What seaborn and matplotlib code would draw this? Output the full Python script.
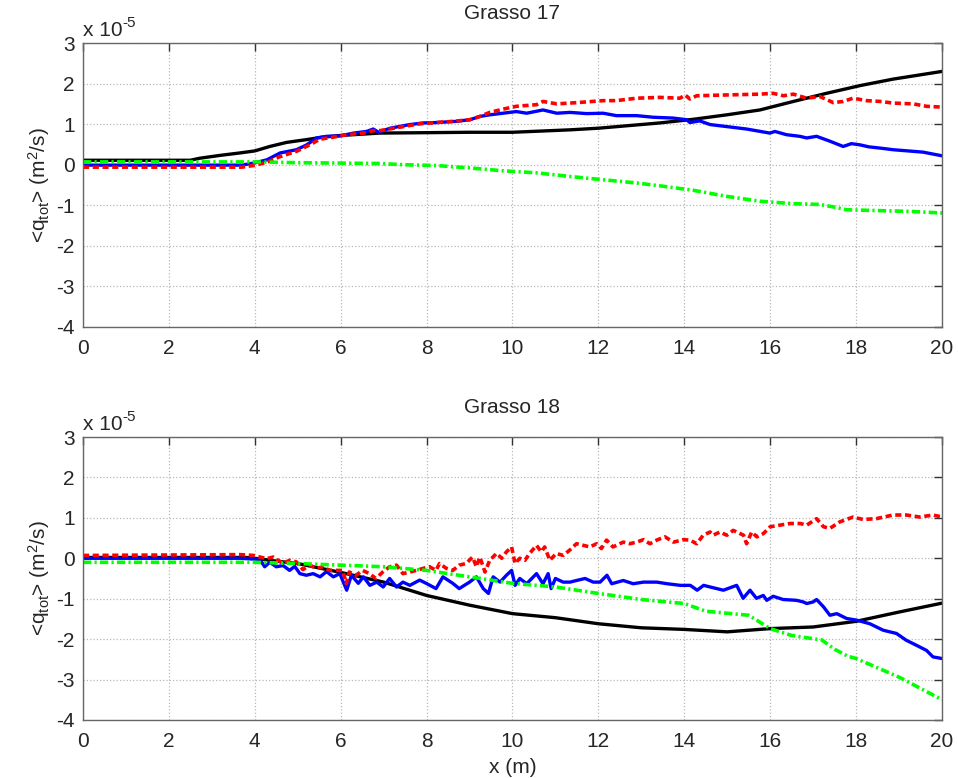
import matplotlib
matplotlib.use("Agg")
import matplotlib.pyplot as plt
import seaborn as sns
import pandas as pd

# ---------------- data (units of 1e-5 m^2/s) ----------------
# Grasso 17
g17_black_x = [0, 2.5, 2.72, 3.19, 3.65, 4.0, 4.35, 4.74, 5.21, 5.52,
               5.98, 6.91, 8.0, 9.01, 10, 11.34, 12, 13.43, 14.21, 14.99,
               15.76, 16.54, 17.31, 18.09, 18.86, 19.64, 20]
g17_black_y = [0.11, 0.11, 0.16, 0.23, 0.29, 0.34, 0.45, 0.55, 0.62, 0.67,
               0.72, 0.78, 0.79, 0.80, 0.80, 0.86, 0.90, 1.03, 1.12, 1.23,
               1.35, 1.56, 1.76, 1.95, 2.11, 2.24, 2.30]

g17_blue_x = [0, 3.7, 3.97, 4.28, 4.59, 4.97, 5.21, 5.44, 5.67, 5.98,
              6.3, 6.6, 6.76, 6.88, 7.15, 7.61, 7.92, 8.23, 8.7, 9.01,
              9.24, 9.47, 9.78, 10.09, 10.33, 10.71, 11.03, 11.34, 11.73, 12.11,
              12.42, 12.89, 13.28, 13.74, 14.05, 14.13, 14.36, 14.6, 14.99, 15.45,
              15.99, 16.11, 16.38, 16.69, 16.85, 17.08, 17.39, 17.7, 17.89, 18.09,
              18.3, 18.56, 18.86, 19.33, 19.56, 20]
g17_blue_y = [-0.01, -0.01, 0.04, 0.12, 0.29, 0.37, 0.49, 0.66, 0.70, 0.71,
              0.78, 0.82, 0.88, 0.80, 0.90, 0.99, 1.03, 1.04, 1.07, 1.11,
              1.19, 1.23, 1.27, 1.31, 1.27, 1.35, 1.27, 1.29, 1.26, 1.27,
              1.21, 1.21, 1.17, 1.15, 1.11, 1.04, 1.08, 0.99, 0.94, 0.88,
              0.78, 0.82, 0.74, 0.70, 0.66, 0.70, 0.58, 0.45, 0.52, 0.49,
              0.44, 0.41, 0.37, 0.33, 0.31, 0.22]

g17_red_x = [0, 3.7, 3.97, 4.28, 4.59, 4.97, 5.28, 5.52, 5.83, 6.14,
             6.53, 6.76, 6.91, 7.46, 7.85, 8.23, 8.62, 9.01, 9.24, 9.47,
             9.78, 10.09, 10.56, 10.71, 11.03, 11.49, 12.11, 12.42, 12.89, 13.43,
             13.9, 14.02, 14.13, 14.29, 14.99, 15.76, 16.07, 16.31, 16.54, 16.85,
             17.16, 17.47, 17.7, 17.93, 18.24, 18.56, 18.86, 19.33, 19.64, 20]
g17_red_y = [-0.06, -0.06, -0.02, 0.06, 0.20, 0.33, 0.49, 0.63, 0.68, 0.74,
             0.78, 0.84, 0.84, 0.94, 1.01, 1.04, 1.07, 1.11, 1.19, 1.29,
             1.37, 1.44, 1.48, 1.56, 1.50, 1.53, 1.58, 1.58, 1.64, 1.66,
             1.64, 1.72, 1.62, 1.70, 1.72, 1.74, 1.76, 1.70, 1.74, 1.64,
             1.68, 1.53, 1.56, 1.64, 1.58, 1.56, 1.52, 1.50, 1.44, 1.42]

g17_green_x = [0, 3.97, 5.0, 6.0, 6.91, 7.46, 8.23, 9.01, 9.78, 10.56,
               11.34, 12.11, 12.89, 13.43, 14.21, 14.99, 15.76, 16.54, 17.16, 17.47,
               17.78, 18.48, 19.25, 20]
g17_green_y = [0.07, 0.07, 0.05, 0.04, 0.03, 0.0, -0.02, -0.08, -0.15, -0.20,
               -0.29, -0.37, -0.45, -0.52, -0.63, -0.78, -0.90, -0.96, -0.98, -1.04,
               -1.11, -1.13, -1.15, -1.19]

# Grasso 18
g18_black_x = [0, 3.8, 4.0, 4.5, 5.0, 6.0, 7.0, 8.0, 9.0, 10,
               11, 12, 13, 14, 15, 16, 17, 18, 19, 20]
g18_black_y = [0.02, 0.02, 0.0, -0.07, -0.13, -0.35, -0.59, -0.92, -1.16, -1.37,
               -1.47, -1.62, -1.72, -1.76, -1.82, -1.74, -1.70, -1.56, -1.33, -1.11]

g18_blue_x = [0, 3.66, 4.12, 4.23, 4.35, 4.5, 4.66, 4.81, 4.93, 5.05,
              5.2, 5.36, 5.52, 5.67, 5.83, 5.98, 6.14, 6.25, 6.41, 6.53,
              6.68, 6.84, 6.99, 7.14, 7.3, 7.45, 7.61, 7.84, 7.99, 8.22,
              8.38, 8.61, 8.76, 9.0, 9.16, 9.32, 9.44, 9.55, 9.71, 9.86,
              9.98, 10.06, 10.17, 10.33, 10.56, 10.71, 10.83, 10.9, 11.0, 11.18,
              11.34, 11.49, 11.69, 11.88, 12.04, 12.2, 12.31, 12.58, 12.81, 13.05,
              13.36, 13.6, 13.91, 14.14, 14.3, 14.45, 14.6, 14.91, 15.22, 15.37,
              15.53, 15.68, 15.84, 15.92, 16.07, 16.3, 16.61, 16.77, 16.85, 17.0,
              17.08, 17.24, 17.39, 17.55, 17.78, 18.01, 18.32, 18.63, 18.94, 19.17,
              19.4, 19.64, 19.79, 20]
g18_blue_y = [0.0, 0.0, -0.03, -0.21, -0.10, -0.21, -0.18, -0.30, -0.20, -0.38,
              -0.42, -0.38, -0.46, -0.33, -0.46, -0.38, -0.79, -0.42, -0.62, -0.46,
              -0.67, -0.59, -0.71, -0.50, -0.71, -0.59, -0.67, -0.54, -0.62, -0.75,
              -0.46, -0.62, -0.75, -0.59, -0.46, -0.75, -0.87, -0.46, -0.59, -0.42,
              -0.30, -0.67, -0.50, -0.63, -0.38, -0.63, -0.38, -0.75, -0.50, -0.59,
              -0.59, -0.55, -0.50, -0.59, -0.59, -0.42, -0.63, -0.55, -0.63, -0.59,
              -0.59, -0.63, -0.67, -0.67, -0.79, -0.67, -0.71, -0.79, -0.67, -0.99,
              -0.79, -0.99, -0.92, -1.04, -0.94, -1.02, -1.04, -1.08, -1.12, -1.08,
              -1.02, -1.20, -1.41, -1.37, -1.49, -1.53, -1.62, -1.78, -1.86, -2.03,
              -2.15, -2.28, -2.44, -2.48]

g18_red_x = [0, 3.66, 3.97, 4.28, 4.43, 4.66, 4.81, 4.97, 5.12, 5.28,
             5.43, 5.59, 5.74, 5.9, 6.05, 6.13, 6.2, 6.36, 6.51, 6.67,
             6.82, 6.98, 7.14, 7.3, 7.45, 7.61, 7.76, 7.92, 8.07, 8.22,
             8.3, 8.46, 8.61, 8.76, 8.92, 9.07, 9.16, 9.24, 9.36, 9.47,
             9.63, 9.75, 9.86, 9.98, 10.06, 10.17, 10.29, 10.4, 10.56, 10.67,
             10.75, 10.87, 11.02, 11.18, 11.33, 11.49, 11.65, 11.8, 11.96, 12.07,
             12.19, 12.34, 12.58, 12.73, 12.89, 13.05, 13.2, 13.36, 13.55, 13.75,
             13.98, 14.13, 14.29, 14.44, 14.6, 14.67, 14.83, 14.99, 15.14, 15.38,
             15.45, 15.57, 15.69, 15.84, 16.0, 16.23, 16.46, 16.7, 16.85, 17.08,
             17.24, 17.39, 17.62, 17.93, 18.16, 18.47, 18.86, 19.17, 19.48, 19.79,
             20]
g18_red_y = [0.07, 0.09, 0.07, -0.01, 0.03, -0.13, -0.05, -0.09, -0.28, -0.17,
             -0.25, -0.21, -0.30, -0.30, -0.30, -0.63, -0.34, -0.42, -0.30, -0.38,
             -0.50, -0.34, -0.21, -0.17, -0.38, -0.34, -0.30, -0.25, -0.21, -0.30,
             -0.13, -0.25, -0.30, -0.17, -0.13, 0.03, -0.21, 0.03, -0.34, -0.05,
             0.12, 0.0, 0.16, 0.28, -0.13, 0.0, -0.05, 0.12, 0.32, 0.16,
             0.28, -0.05, 0.12, 0.07, 0.20, 0.36, 0.32, 0.28, 0.36, 0.24,
             0.45, 0.28, 0.40, 0.36, 0.40, 0.46, 0.36, 0.45, 0.53, 0.40,
             0.46, 0.45, 0.36, 0.57, 0.65, 0.57, 0.65, 0.57, 0.69, 0.57,
             0.36, 0.65, 0.53, 0.61, 0.78, 0.82, 0.86, 0.86, 0.82, 0.98,
             0.78, 0.74, 0.90, 1.02, 0.96, 0.98, 1.07, 1.07, 1.02, 1.07,
             1.02]

g18_green_x = [0, 4.0, 5.0, 6.0, 7.0, 8.0, 9.0, 10.0, 11.0, 12.0,
               13.0, 14.0, 14.5, 15.0, 15.5, 16.0, 16.5, 17.0, 17.2, 17.5,
               17.8, 18.0, 19.0, 20]
g18_green_y = [-0.10, -0.10, -0.13, -0.17, -0.21, -0.30, -0.46, -0.62, -0.71, -0.87,
               -1.02, -1.12, -1.31, -1.36, -1.41, -1.74, -1.91, -1.99, -2.02, -2.25,
               -2.42, -2.48, -2.94, -3.50]

titles = ["Grasso 17", "Grasso 18"]
x_ticks = list(range(0, 21, 2))
y_ticks = list(range(-4, 4))

# ---------------- styling ----------------
sns.set_style("white")
plt.rcParams["font.family"] = ["Liberation Sans", "DejaVu Sans"]
plt.rcParams["mathtext.default"] = "regular"
plt.rcParams["axes.unicode_minus"] = False

styles = {
    "black": dict(color="#000000", linewidth=2.4, linestyle="-"),
    "blue": dict(color="#0000FF", linewidth=2.4, linestyle="-"),
    "red": dict(color="#FF0000", linewidth=2.6, linestyle=(0, (1.7, 1.0))),
    "green": dict(color="#00FF00", linewidth=2.6, linestyle=(0, (2.3, 0.9, 0.6, 0.9))),
}

panels = [
    [("black", g17_black_x, g17_black_y), ("blue", g17_blue_x, g17_blue_y),
     ("red", g17_red_x, g17_red_y), ("green", g17_green_x, g17_green_y)],
    [("black", g18_black_x, g18_black_y), ("blue", g18_blue_x, g18_blue_y),
     ("red", g18_red_x, g18_red_y), ("green", g18_green_x, g18_green_y)],
]

fig = plt.figure(figsize=(9.58, 7.78), dpi=100)
ax_top = fig.add_axes([0.0866, 0.5797, 0.8967, 0.3650])
ax_bot = fig.add_axes([0.0866, 0.0746, 0.8967, 0.3637])

for ax, title, series in zip([ax_top, ax_bot], titles, panels):
    for name, xs, ys in series:
        df = pd.DataFrame({"x": xs, "y": ys})
        sns.lineplot(data=df, x="x", y="y", ax=ax, errorbar=None, sort=False,
                     **styles[name])
    ax.set_xlim(0, 20)
    ax.set_ylim(-4, 3)
    ax.set_xticks(x_ticks)
    ax.set_yticks(y_ticks)
    ax.set_xticklabels([str(t) for t in x_ticks])
    ax.set_yticklabels([str(t) for t in y_ticks])
    ax.grid(True, linestyle=":", color="#b8b8b8", linewidth=0.9)
    ax.set_axisbelow(True)
    ax.tick_params(direction="in", top=True, right=True, length=6,
                   width=1.0, color="#333333", labelsize=15)
    ax.tick_params(axis="x", pad=9)
    ax.tick_params(axis="y", pad=6)
    for sp in ax.spines.values():
        sp.set_color("#666666")
        sp.set_linewidth(1.0)
    ax.set_title(title, fontsize=15, pad=17)
    ax.set_ylabel(r"<q$_{tot}$> (m$^{2}$/s)", fontsize=15, labelpad=3)
    ax.set_xlabel("")
    ax.text(0.0, 1.012, "x 10", transform=ax.transAxes,
            ha="left", va="bottom", fontsize=15)
    ax.text(0.0455, 1.045, "-5", transform=ax.transAxes,
            ha="left", va="bottom", fontsize=11)

ax_bot.set_xlabel("x (m)", fontsize=15, labelpad=5)

fig.savefig("out.png", dpi=100)
